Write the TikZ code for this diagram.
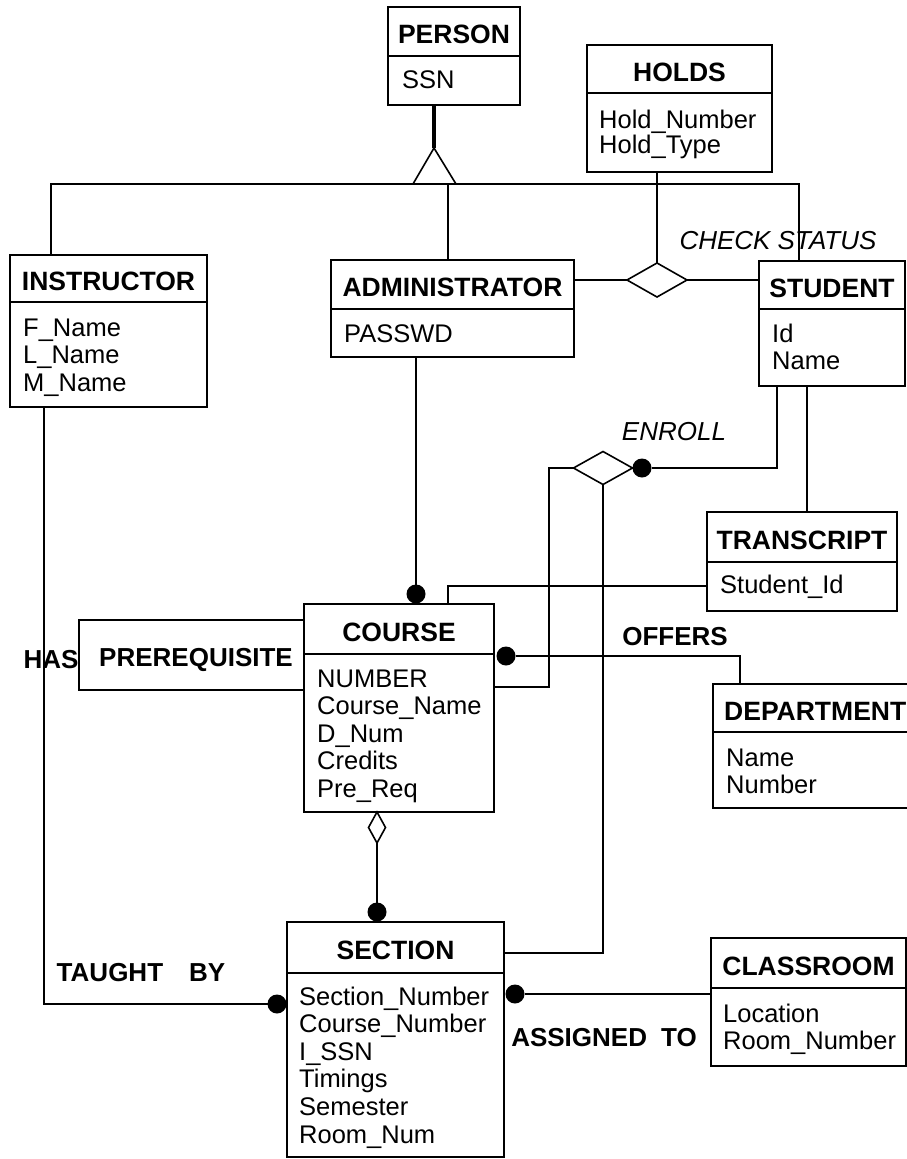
\documentclass[tikz,border=0pt]{standalone}
\usepackage{fontspec}
\setmainfont{Liberation Sans}
\usetikzlibrary{shapes.geometric,calc}

\tikzset{
  ln/.style={line width=1.6pt, black},
  thk/.style={line width=3.6pt, black},
  ebox/.style={draw, line width=1.6pt, inner sep=0pt, outer sep=0pt},
  etitle/.style={font=\fontsize{26.5}{28}\selectfont\bfseries, inner sep=0pt},
  eattr/.style={font=\fontsize{25.5}{27.5}\selectfont, inner sep=0pt, anchor=base west},
  lbl/.style={font=\fontsize{26}{28}\selectfont\bfseries, inner sep=0pt},
  ilbl/.style={font=\fontsize{26}{28}\selectfont\itshape, inner sep=0pt},
  rel/.style={diamond, draw, line width=1.6pt, inner sep=0pt, outer sep=0pt, fill=white},
  dot/.style={circle, fill=black, inner sep=0pt, outer sep=0pt, minimum size=19pt},
}

% name, L, T, R, D, B, title
\newcommand\entbox[7]{%
  \node[ebox, minimum width={(#4-#2)*1pt}, minimum height={(#6-#3)*1pt}, anchor=north west] (#1) at (#2,#3) {};
  \draw[ln] (#2,#5) -- (#4,#5);
  \node[etitle] (#1-t) at ({(#2+#4)/2},{(#3+#5)/2+3}) {#7};
}
% name, x, first baseline, spacing, list
\newcommand\entattrs[5]{%
  \foreach \aname [count=\i] in {#5}
    \node[eattr] (#1-a\i) at (#2,{#3+(\i-1)*#4}) {\aname};
}

\begin{document}
\begin{tikzpicture}[x=1pt,y=-1pt]
\useasboundingbox[fill=white] (0,0) rectangle (907,1159);

% entities
\entbox{person}{388}{7}{520}{56}{105}{PERSON}
\entattrs{person}{402}{88}{27.5}{SSN}

\entbox{holds}{587}{45}{772}{93}{172}{HOLDS}
\entattrs{holds}{599}{128}{25.5}{Hold\_Number,Hold\_Type}

\entbox{instr}{10}{255}{207}{302}{407}{INSTRUCTOR}
\entattrs{instr}{23}{336}{27.5}{F\_Name,L\_Name,M\_Name}

\entbox{admin}{331}{260}{574}{309}{357}{ADMINISTRATOR}
\entattrs{admin}{344}{342}{27.5}{PASSWD}

\entbox{student}{759}{261}{905}{309}{386}{STUDENT}
\entattrs{student}{772}{342}{27.5}{Id,Name}

\entbox{transcript}{707}{512}{897}{562}{611}{TRANSCRIPT}
\entattrs{transcript}{720}{593}{27.5}{Student\_Id}

\entbox{course}{304}{604}{494}{654}{812}{COURSE}
\entattrs{course}{317}{687}{27.5}{NUMBER,Course\_Name,D\_Num,Credits,Pre\_Req}

\node[ebox, minimum width=634pt, minimum height=124pt, anchor=north west] (dept) at (713,684) {};
\draw[ln] (713,732) -- (920,732);
\node[etitle, anchor=west] (dept-t) at (724,711) {DEPARTMENT};
\entattrs{dept}{726}{766}{27}{Name,Number}

\entbox{section}{287}{922}{504}{973}{1157}{SECTION}
\entattrs{section}{299}{1005}{27.6}{Section\_Number,Course\_Number,I\_SSN,Timings,Semester,Room\_Num}

\entbox{room}{711}{938}{906}{988}{1066}{CLASSROOM}
\entattrs{room}{723}{1022}{27.5}{Location,Room\_Number}

\node[ebox, minimum width=225pt, minimum height=70pt, anchor=north west] (prereq) at (79,620) {};
\node[lbl] (prereq-t) at (196,660) {PREREQUISITE};

% generalization
\coordinate (triTop) at (434,148);
\draw[thk] (triTop |- person.south) -- (triTop);
\coordinate (hL) at (51,184);
\coordinate (hR) at (799,184);
\coordinate (hA) at (448,184);
\draw[ln] (instr.north -| hL) -- (hL) -- (hR) -- (hR |- student.north);
\draw[ln] (hA) -- (hA |- admin.north);
\draw[ln, fill=white] (triTop) -- (413,184) -- (456,184) -- cycle;

% check status
\node[rel, minimum width=60pt, minimum height=34pt] (cs) at (657,280) {};
\draw[ln] (holds.south -| cs.north) -- (cs.north);
\draw[ln] (cs.west) -- (cs.west -| admin.east);
\draw[ln] (cs.east) -- (cs.east -| student.west);
\node[ilbl] (cs-l) at (778,241) {CHECK STATUS};

% administrator - course
\node[dot] (dAdm) at (416,594) {};
\draw[ln] (dAdm |- admin.south) -- (dAdm);

% transcript - course
\coordinate (tc) at (448,586);
\draw[ln] (transcript.west |- tc) -- (tc) -- (tc |- course.north);

% student - transcript
\coordinate (sx) at (807,386);
\draw[ln] (sx) -- (sx |- transcript.north);

% enroll
\node[rel, minimum width=59pt, minimum height=33pt] (en) at (603,468) {};
\node[dot] (dEn) at (642,468) {};
\coordinate (se) at (777,386);
\draw[ln] (se) -- (se |- dEn) -- (dEn);
\coordinate (ec) at (549,468);
\coordinate (ec2) at (549,687);
\draw[ln] (en.west) -- (ec) -- (ec2) -- (ec2 -| course.east);
\coordinate (es) at (603,953);
\draw[ln] (en.south) -- (es) -- (es -| section.east);
\node[ilbl] (en-l) at (674,432) {ENROLL};

% offers
\node[dot] (dOff) at (506,656) {};
\coordinate (oc) at (740,656);
\draw[ln] (dOff) -- (oc) -- (oc |- dept.north);
\node[lbl] (off-l) at (675,637) {OFFERS};

% has prerequisite label
\node[lbl] (has-l) at (51,660) {HAS};

% taught by
\coordinate (ib) at (44,1004);
\node[dot] (dTau) at (277,1004) {};
\draw[ln] (ib |- instr.south) -- (ib) -- (dTau);
\node[lbl] (tau-l) at (141,973) {TAUGHT\hspace{26pt}BY};

% course - section aggregation
\node[rel, minimum width=17pt, minimum height=31pt] (agg) at (377,827.5) {};
\node[dot] (dSec) at (377,912) {};
\draw[ln] (agg.south) -- (dSec);

% assigned to
\node[dot] (dRoom) at (515,994) {};
\draw[ln] (dRoom) -- (dRoom -| room.west);
\node[lbl] (as-l) at (604,1038) {ASSIGNED\hspace{14pt}TO};
\end{tikzpicture}
\end{document}
